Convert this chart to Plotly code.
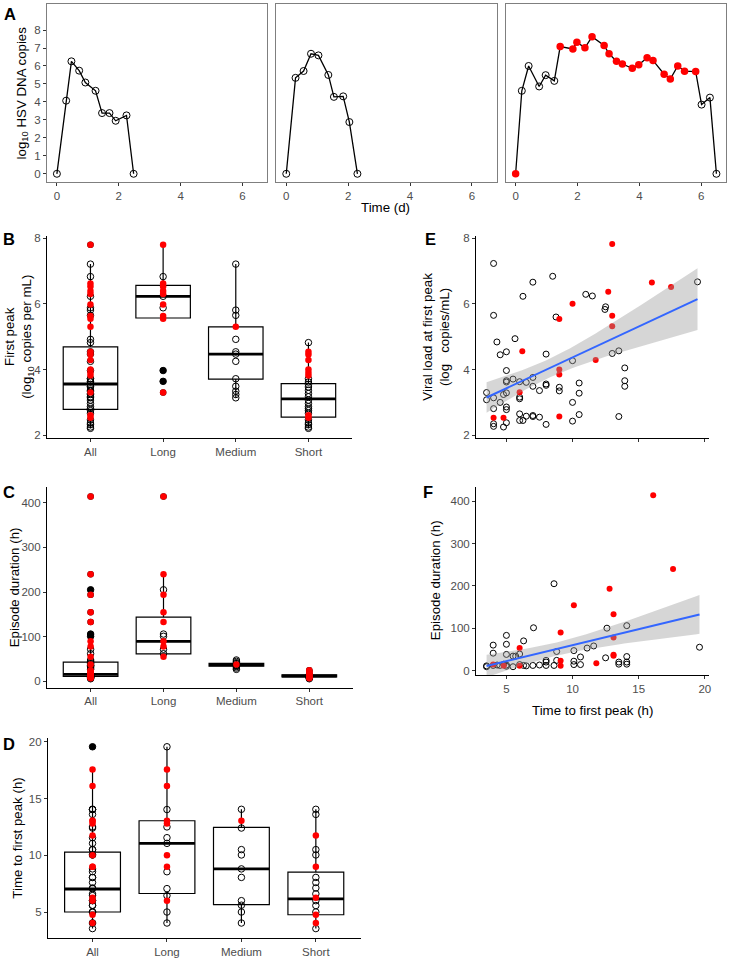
import numpy as np
import plotly.graph_objects as go

W, H = 730, 961
def px(x): return x / W
def py(y): return 1 - y / H

FONT = "Liberation Sans, Arial, sans-serif"
TICKC = "#4D4D4D"
RED = "#FF0000"
TF = 11.5   # tick font
AF = 13.3   # axis title font

# ---------------- Panel A data ----------------
A1_t = [0, 0.30, 0.47, 0.72, 0.92, 1.25, 1.46, 1.70, 1.90, 2.25, 2.48]
A1_v = [0, 4.07, 6.26, 5.74, 5.08, 4.62, 3.38, 3.38, 2.95, 3.25, 0]
A2_t = [0, 0.30, 0.56, 0.80, 1.04, 1.36, 1.54, 1.84, 2.04, 2.30]
A2_v = [0, 5.34, 5.72, 6.68, 6.59, 5.50, 4.28, 4.31, 2.88, 0]
A3_t = [0, 0.20, 0.42, 0.76, 0.97, 1.25, 1.44, 1.85, 1.98, 2.24, 2.47, 2.86, 3.02, 3.26,
        3.45, 3.77, 3.98, 4.25, 4.44, 4.80, 5.00, 5.24, 5.46, 5.82, 6.01, 6.28, 6.49]
A3_v = [0, 4.62, 6.00, 4.86, 5.49, 5.17, 7.08, 6.95, 7.32, 7.01, 7.63, 7.14, 6.68, 6.26,
        6.11, 5.87, 6.07, 6.46, 6.31, 5.54, 5.27, 6.00, 5.71, 5.69, 3.85, 4.24, 0]
A3_red = [1, 0, 0, 0, 0, 0, 1, 1, 1, 1, 1, 1, 1, 1,
          1, 1, 1, 1, 1, 1, 1, 1, 1, 1, 0, 0, 0]
A_yticks = [0, 1, 2, 3, 4, 5, 6, 7, 8]
A_xticks = [0, 2, 4, 6]

# ---------------- Box panels data ----------------
CATS = ["All", "Long", "Medium", "Short"]

B_long = [7.80, 6.83, 6.62, 6.53, 6.39, 6.30, 6.23, 5.98, 5.88, 5.63, 5.55, 3.97, 3.64, 3.30]
B_long_red = [1, 0, 1, 1, 1, 1, 0, 1, 0, 1, 1, 0, 0, 1]
B_med = [7.21, 5.81, 5.65, 5.30, 4.92, 4.54, 4.47, 4.25, 3.72, 3.49, 3.34, 3.24, 3.14]
B_med_red = [0, 0, 0, 1, 0, 0, 0, 0, 0, 0, 0, 0, 0]
B_short = [4.82, 4.54, 4.46, 4.29, 4.00, 3.90, 3.82, 3.72, 3.62, 3.55, 3.47, 3.37, 3.27, 3.17,
           3.07, 2.97, 2.87, 2.81, 2.75, 2.67, 2.61, 2.53, 2.47, 2.37, 2.32, 2.25, 2.21]
B_short_red = [0, 1, 1, 1, 1, 1, 1, 0, 0, 0, 0, 0, 0, 0,
               0, 0, 0, 0, 0, 0, 1, 1, 0, 0, 0, 0, 0]
B_q1 = [2.79, 5.57, 3.71, 2.55]
B_med_stat = [3.56, 6.23, 4.47, 3.11]
B_q3 = [4.69, 6.56, 5.30, 3.57]
B_yticks = [2, 4, 6, 8]

C_long = [414, 240, 205, 194, 155, 133, 106, 101, 90, 78, 72, 62, 55]
C_long_red = [1, 1, 0, 1, 1, 1, 0, 0, 1, 1, 0, 0, 1]
C_med = [48, 45, 42, 40, 38, 37, 36, 35, 33, 30, 27]
C_med_red = [0, 0, 0, 0, 1, 0, 0, 0, 0, 0, 0]
C_short = [25, 22, 20, 18, 16, 15, 14, 14, 13, 13, 12, 12, 12, 11, 11, 11, 10, 10, 10, 9, 9, 8, 8, 7, 6]
C_short_red = [1, 1, 1, 1, 1, 0, 1, 0, 0, 1, 0, 0, 1, 0, 1, 0, 0, 1, 0, 0, 1, 0, 0, 1, 0]
C_q1 = [11.3, 61.6, 34.0, 10.0]
C_med_stat = [15.7, 89.8, 37.2, 12.2]
C_q3 = [43.2, 143.7, 40.5, 14.5]
C_yticks = [0, 100, 200, 300, 400]

D_long = [19.56, 17.55, 16.1, 14.03, 13.04, 12.8, 12.5, 11.55, 11.05, 10.0, 9.0, 8.55, 7.06, 6.45, 6.0, 5.0, 4.03]
D_long_red = [0, 1, 1, 0, 1, 1, 0, 0, 0, 1, 1, 0, 0, 0, 1, 0, 0]
D_med = [14.05, 13.04, 12.4, 10.5, 10.03, 8.8, 8.05, 6.0, 5.6, 5.0, 4.03]
D_med_red = [0, 1, 0, 0, 0, 0, 0, 0, 0, 0, 0]
D_short = [14.05, 13.6, 11.75, 10.5, 10.03, 9.0, 8.05, 7.6, 7.12, 6.6, 6.25, 6.0, 5.57, 5.0, 4.76, 4.03, 3.54]
D_short_red = [0, 0, 1, 0, 0, 1, 0, 0, 0, 0, 1, 0, 0, 0, 1, 1, 0]
D_q1 = [5.0, 6.63, 5.66, 4.76]
D_med_stat = [7.03, 11.05, 8.81, 6.16]
D_q3 = [10.27, 13.04, 12.45, 8.52]
D_yticks = [5, 10, 15, 20]

# ---------------- Scatter panels data ----------------
E_open_x = [3.5, 3.5, 4.03, 4.03, 4.03, 4.03, 4.03, 4.03, 4.28, 4.53, 4.53, 4.78, 4.78, 5.0, 5.0, 5.0,
            5.0, 5.0, 5.0, 5.0, 5.0, 5.5, 5.65, 6.0, 6.0, 6.0, 6.0, 6.0, 6.25, 6.25, 6.5, 6.5,
            7.0, 7.0, 7.0, 7.0, 7.0, 7.5, 7.5, 8.0, 8.0, 8.0, 8.0, 8.5, 8.75, 9.0, 9.0, 10.0,
            10.0, 10.0, 10.5, 10.5, 10.5, 11.0, 11.5, 12.45, 12.5, 13.0, 13.5, 13.5, 13.95, 13.95,
            13.95, 19.45]
E_open_y = [3.30, 3.08, 7.23, 5.65, 3.14, 2.81, 2.35, 2.27, 4.84, 3.00, 4.45, 3.24, 2.25, 4.54, 3.97, 3.66,
            3.62, 3.29, 2.86, 2.78, 2.38, 3.71, 4.94, 3.63, 3.16, 3.11, 2.65, 2.45, 6.23, 2.45, 3.61, 2.58,
            6.66, 3.76, 3.49, 2.60, 2.57, 3.36, 2.55, 4.47, 3.56, 3.52, 2.33, 6.84, 5.60, 3.46, 3.35, 4.27,
            3.00, 2.43, 3.59, 3.28, 2.63, 6.29, 6.24, 5.83, 5.91, 4.49, 4.57, 2.57, 4.05, 3.66,
            3.49, 6.67]
E_red_x = [4.03, 4.78, 6.0, 6.2, 9.0, 9.0, 9.0, 9.0, 10.0, 11.75, 12.7, 13.0, 13.0, 13.0, 16.0, 17.45]
E_red_y = [2.53, 2.53, 3.31, 4.56, 5.54, 4.00, 3.85, 2.57, 6.00, 4.29, 6.37, 7.82, 5.64, 5.32, 6.65, 6.51]

F_open_x = [8.6, 7.05, 12.6, 14.1, 5.0, 4.0, 5.0, 6.3, 4.0, 5.0, 5.5, 5.7, 6.0, 8.8, 10.1, 11.1, 11.6,
            10.6, 12.5, 14.1, 19.6, 3.5, 3.5, 4.0, 4.3, 4.5, 5.0, 5.0, 6.3, 6.5, 7.0, 7.5, 8.0, 8.0,
            8.0, 8.6, 8.8, 10.1, 10.1, 10.6, 13.5, 13.5, 14.1, 14.1, 6.0, 4.8, 5.5]
F_open_y = [205, 101, 100, 106, 83, 60, 62, 70, 41, 38, 34, 34, 39, 45, 47, 53, 58,
            32, 30, 33, 55, 11, 9, 12, 13, 12, 13, 10, 12, 11, 12, 13, 12, 20,
            24, 12, 24, 22, 14, 14, 15, 20, 15, 20, 14, 15, 9]
F_red_x = [16.1, 17.6, 12.8, 10.1, 13.1, 9.1, 13.1, 6.0, 13.1, 13.1, 9.1, 11.8, 9.1, 6.0, 4.0, 4.8]
F_red_y = [414, 240, 193, 154, 133, 90, 78, 53, 37, 35, 23, 17, 11, 11, 14, 11]
EF_xticks = [5, 10, 15, 20]
F_yticks = [0, 100, 200, 300, 400]

fig = go.Figure()

# ---------------- helpers ----------------
def open_marker(size=6.5):
    return dict(symbol="circle-open", size=size, color="black", line=dict(width=1, color="black"))

def red_marker(size=6.5):
    return dict(symbol="circle", size=size, color=RED, line=dict(width=0))

def add_box_panel(xa, ya, groups, q1, med, q3):
    # groups: list of (values, red flags) for Long, Medium, Short; All = union
    allv = sum([g[0] for g in groups], [])
    allr = sum([g[1] for g in groups], [])
    data = [(allv, allr)] + groups
    pos = [1, 2, 3, 4]
    lo, hi, outx, outy = [], [], [], []
    for i, (v, r) in enumerate(data):
        iqr = q3[i] - q1[i]
        lf, uf = q1[i] - 1.5 * iqr, q3[i] + 1.5 * iqr
        inside = [a for a in v if lf <= a <= uf]
        lo.append(min(inside)); hi.append(max(inside))
        for a in v:
            if a < lf or a > uf:
                outx.append(pos[i]); outy.append(a)
    fig.add_trace(go.Box(x=pos, q1=q1, median=med, q3=q3, lowerfence=lo, upperfence=hi,
                         width=0.75, whiskerwidth=0, boxpoints=False, fillcolor="white",
                         line=dict(color="black", width=1.2), xaxis=xa, yaxis=ya,
                         showlegend=False, hoverinfo="skip"))
    mx, my = [], []
    for i in range(4):
        mx += [pos[i] - 0.375, pos[i] + 0.375, None]
        my += [med[i], med[i], None]
    fig.add_trace(go.Scatter(x=mx, y=my, mode="lines", line=dict(color="black", width=2.8),
                             xaxis=xa, yaxis=ya, showlegend=False, hoverinfo="skip"))
    fig.add_trace(go.Scatter(x=outx, y=outy, mode="markers",
                             marker=dict(symbol="circle", size=6.5, color="black"),
                             xaxis=xa, yaxis=ya, showlegend=False))
    ox, oy, rx, ry = [], [], [], []
    for i, (v, r) in enumerate(data):
        for a, f in zip(v, r):
            if f:
                rx.append(pos[i]); ry.append(a)
            else:
                ox.append(pos[i]); oy.append(a)
    fig.add_trace(go.Scatter(x=ox, y=oy, mode="markers", marker=open_marker(),
                             xaxis=xa, yaxis=ya, showlegend=False))
    fig.add_trace(go.Scatter(x=rx, y=ry, mode="markers", marker=red_marker(),
                             xaxis=xa, yaxis=ya, showlegend=False))

def fit_band(x, y, n=80):
    x = np.asarray(x, float); y = np.asarray(y, float)
    b, a = np.polyfit(x, y, 1)
    xs = np.linspace(x.min(), x.max(), n)
    yhat = a + b * xs
    resid = y - (a + b * x)
    dof = len(x) - 2
    s = np.sqrt(np.sum(resid ** 2) / dof)
    sxx = np.sum((x - x.mean()) ** 2)
    se = s * np.sqrt(1 / len(x) + (xs - x.mean()) ** 2 / sxx)
    t = 1.99
    return xs, yhat, yhat - t * se, yhat + t * se

def add_scatter_panel(xa, ya, ox, oy, rx, ry):
    fig.add_trace(go.Scatter(x=ox, y=oy, mode="markers", marker=open_marker(6),
                             xaxis=xa, yaxis=ya, showlegend=False))
    fig.add_trace(go.Scatter(x=rx, y=ry, mode="markers", marker=red_marker(6),
                             xaxis=xa, yaxis=ya, showlegend=False))
    xs, yh, lo, hi = fit_band(ox + rx, oy + ry)
    fig.add_trace(go.Scatter(x=list(xs) + list(xs[::-1]), y=list(hi) + list(lo[::-1]),
                             fill="toself", fillcolor="rgba(153,153,153,0.4)",
                             line=dict(width=0), mode="lines", xaxis=xa, yaxis=ya,
                             showlegend=False, hoverinfo="skip"))
    fig.add_trace(go.Scatter(x=xs, y=yh, mode="lines", line=dict(color="#3366FF", width=2),
                             xaxis=xa, yaxis=ya, showlegend=False, hoverinfo="skip"))

# ---------------- Panel A traces ----------------
for k, (t, v, reds) in enumerate([(A1_t, A1_v, [0] * len(A1_t)),
                                  (A2_t, A2_v, [0] * len(A2_t)),
                                  (A3_t, A3_v, A3_red)]):
    xa = "x" if k == 0 else f"x{k+1}"
    ya = "y" if k == 0 else f"y{k+1}"
    fig.add_trace(go.Scatter(x=t, y=v, mode="lines", line=dict(color="black", width=1.3),
                             xaxis=xa, yaxis=ya, showlegend=False))
    fig.add_trace(go.Scatter(x=[a for a, r in zip(t, reds) if not r],
                             y=[b for b, r in zip(v, reds) if not r],
                             mode="markers", marker=open_marker(7),
                             xaxis=xa, yaxis=ya, showlegend=False))
    fig.add_trace(go.Scatter(x=[a for a, r in zip(t, reds) if r],
                             y=[b for b, r in zip(v, reds) if r],
                             mode="markers", marker=red_marker(7.5),
                             xaxis=xa, yaxis=ya, showlegend=False))

add_box_panel("x4", "y4", [(B_long, B_long_red), (B_med, B_med_red), (B_short, B_short_red)],
              B_q1, B_med_stat, B_q3)
add_box_panel("x5", "y5", [(C_long, C_long_red), (C_med, C_med_red), (C_short, C_short_red)],
              C_q1, C_med_stat, C_q3)
add_box_panel("x6", "y6", [(D_long, D_long_red), (D_med, D_med_red), (D_short, D_short_red)],
              D_q1, D_med_stat, D_q3)
add_scatter_panel("x7", "y7", E_open_x, E_open_y, E_red_x, E_red_y)
add_scatter_panel("x8", "y8", F_open_x, F_open_y, F_red_x, F_red_y)

# ---------------- axes ----------------
def ax(domain, rng, anchor, tickvals=None, ticktext=None, showlabels=True, mirror=False,
       linecolor="black"):
    d = dict(domain=domain, range=rng, anchor=anchor, showgrid=False, zeroline=False,
             showline=True, linecolor=linecolor, linewidth=1, mirror=mirror,
             ticks="outside", ticklen=3, tickcolor="#333333", tickwidth=1,
             tickfont=dict(family=FONT, size=TF, color=TICKC), showticklabels=showlabels)
    if tickvals is not None:
        d["tickmode"] = "array"; d["tickvals"] = tickvals
    if ticktext is not None:
        d["ticktext"] = ticktext
    return d

lay = {}
A_ydom = [py(180), py(1)]
A_xdoms = [[px(47), px(268)], [px(277), px(498)], [px(507), px(728)]]
for k in range(3):
    xn = "xaxis" if k == 0 else f"xaxis{k+1}"
    yn = "yaxis" if k == 0 else f"yaxis{k+1}"
    xr = "x" if k == 0 else f"x{k+1}"
    yr = "y" if k == 0 else f"y{k+1}"
    lay[xn] = ax(A_xdoms[k], [-0.324, 6.80], yr, A_xticks, mirror=True, linecolor="#7F7F7F")
    lay[yn] = ax(A_ydom, [-0.45, 9.45], xr, A_yticks, showlabels=(k == 0), mirror=True,
                 linecolor="#7F7F7F")
    if k > 0:
        lay[yn]["ticks"] = ""

lay["xaxis4"] = ax([px(47), px(353)], [0.4, 4.6], "y4", [1, 2, 3, 4], CATS)
lay["yaxis4"] = ax([py(437.6), py(234)], [1.92, 8.08], "x4", B_yticks)
lay["xaxis5"] = ax([px(47), px(354)], [0.4, 4.6], "y5", [1, 2, 3, 4], CATS)
lay["yaxis5"] = ax([py(689), py(487.3)], [-14, 434.4], "x5", C_yticks)
lay["xaxis6"] = ax([px(48), px(361.5)], [0.4, 4.6], "y6", [1, 2, 3, 4], CATS)
lay["yaxis6"] = ax([py(941), py(740)], [2.7, 20.3], "x6", D_yticks)
lay["xaxis7"] = ax([px(477.3), px(710.7)], [2.7, 20.3], "y7", EF_xticks, showlabels=False)
lay["yaxis7"] = ax([py(437.6), py(234)], [1.92, 8.08], "x7", B_yticks)
lay["xaxis8"] = ax([px(477.3), px(710.7)], [2.7, 20.3], "y8", EF_xticks)
lay["yaxis8"] = ax([py(676.4), py(486.8)], [-11, 434], "x8", F_yticks)

# ---------------- annotations ----------------
ann = []
def text(x, y, s, size=AF, angle=0, color="black"):
    ann.append(dict(x=px(x), y=py(y), xref="paper", yref="paper", text=s, showarrow=False,
                    textangle=angle, xanchor="center", yanchor="middle",
                    font=dict(family=FONT, size=size, color=color)))

for lbl, x, y in [("A", 10, 11), ("B", 9, 237), ("C", 9, 492), ("D", 9, 746),
                  ("E", 432, 237), ("F", 429, 492)]:
    text(x, y, f"<b>{lbl}</b>", size=16.5)

text(22, 90, "log<sub>10</sub> HSV DNA copies", angle=-90)
text(387, 206, "Time (d)")
text(19, 336, "First peak<br>(log<sub>10</sub> copies per mL)", angle=-90)
text(14, 588, "Episode duration (h)", angle=-90)
text(18, 840, "Time to first peak (h)", angle=-90)
text(437, 336, "Viral load at first peak<br>(log\u00a0\u00a0\u00a0copies/mL)", angle=-90)
text(437, 581, "Episode duration (h)", angle=-90)
text(594, 712, "Time to first peak (h)")

fig.update_layout(width=W, height=H, margin=dict(l=0, r=0, t=0, b=0),
                  paper_bgcolor="white", plot_bgcolor="white", showlegend=False,
                  font=dict(family=FONT), annotations=ann, **lay)

fig.write_html("out.html", config={"displayModeBar": False},
               post_script="document.body.style.margin='0px';document.body.style.padding='0px';")
